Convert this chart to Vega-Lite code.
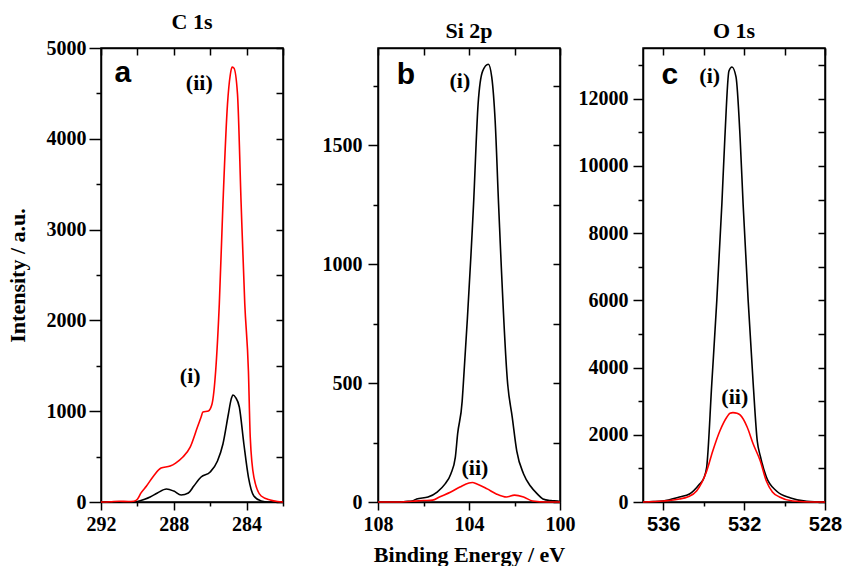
{
  "$schema": "https://vega.github.io/schema/vega-lite/v6.json",
  "background": "white",
  "padding": {"left": 5, "top": 10, "right": 5, "bottom": 0},
  "spacing": 0,
  "datasets": {
    "a": [
      {"series":"i","energy":292,"intensity":0},{"series":"i","energy":291,"intensity":0},{"series":"i","energy":290.3,"intensity":0},{"series":"i","energy":290.0,"intensity":5},{"series":"i","energy":289.6,"intensity":30},{"series":"i","energy":289.3,"intensity":55},{"series":"i","energy":288.9,"intensity":100},{"series":"i","energy":288.4,"intensity":143},{"series":"i","energy":288.0,"intensity":120},{"series":"i","energy":287.6,"intensity":77},{"series":"i","energy":287.2,"intensity":99},{"series":"i","energy":286.9,"intensity":176},{"series":"i","energy":286.5,"intensity":275},{"series":"i","energy":286.0,"intensity":330},{"series":"i","energy":285.6,"intensity":451},{"series":"i","energy":285.3,"intensity":639},{"series":"i","energy":285.0,"intensity":969},{"series":"i","energy":284.85,"intensity":1130},{"series":"i","energy":284.75,"intensity":1178},{"series":"i","energy":284.6,"intensity":1150},{"series":"i","energy":284.4,"intensity":1046},{"series":"i","energy":284.15,"intensity":639},{"series":"i","energy":283.9,"intensity":275},{"series":"i","energy":283.6,"intensity":66},{"series":"i","energy":283.2,"intensity":11},{"series":"i","energy":282.8,"intensity":0},{"series":"i","energy":282,"intensity":0},
      {"series":"ii","energy":292,"intensity":0},{"series":"ii","energy":291.5,"intensity":3},{"series":"ii","energy":291,"intensity":8},{"series":"ii","energy":290.5,"intensity":5},{"series":"ii","energy":290.2,"intensity":8},{"series":"ii","energy":290.0,"intensity":30},{"series":"ii","energy":289.8,"intensity":100},{"series":"ii","energy":289.5,"intensity":176},{"series":"ii","energy":289.1,"intensity":290},{"series":"ii","energy":288.7,"intensity":374},{"series":"ii","energy":288.2,"intensity":396},{"series":"ii","energy":287.9,"intensity":429},{"series":"ii","energy":287.5,"intensity":495},{"series":"ii","energy":287.1,"intensity":605},{"series":"ii","energy":286.7,"intensity":826},{"series":"ii","energy":286.5,"intensity":936},{"series":"ii","energy":286.4,"intensity":991},{"series":"ii","energy":286.1,"intensity":1002},{"series":"ii","energy":285.9,"intensity":1079},{"series":"ii","energy":285.7,"intensity":1442},{"series":"ii","energy":285.5,"intensity":2180},{"series":"ii","energy":285.3,"intensity":3281},{"series":"ii","energy":285.05,"intensity":4382},{"series":"ii","energy":284.9,"intensity":4700},{"series":"ii","energy":284.8,"intensity":4789},{"series":"ii","energy":284.7,"intensity":4780},{"series":"ii","energy":284.5,"intensity":4492},{"series":"ii","energy":284.3,"intensity":3281},{"series":"ii","energy":284.1,"intensity":2180},{"series":"ii","energy":283.9,"intensity":1442},{"series":"ii","energy":283.8,"intensity":716},{"series":"ii","energy":283.6,"intensity":275},{"series":"ii","energy":283.2,"intensity":66},{"series":"ii","energy":282.7,"intensity":22},{"series":"ii","energy":282.3,"intensity":5},{"series":"ii","energy":282,"intensity":0}
    ],
    "b": [
      {"series":"i","energy":108,"intensity":0},{"series":"i","energy":107,"intensity":0},{"series":"i","energy":106.8,"intensity":2},{"series":"i","energy":106.5,"intensity":4},{"series":"i","energy":106.3,"intensity":13},{"series":"i","energy":105.8,"intensity":21},{"series":"i","energy":105.4,"intensity":42},{"series":"i","energy":105.05,"intensity":76},{"series":"i","energy":104.8,"intensity":118},{"series":"i","energy":104.6,"intensity":189},{"series":"i","energy":104.5,"intensity":286},{"series":"i","energy":104.3,"intensity":424},{"series":"i","energy":104.25,"intensity":496},{"series":"i","energy":103.8,"intensity":1252},{"series":"i","energy":103.6,"intensity":1672},{"series":"i","energy":103.4,"intensity":1811},{"series":"i","energy":103.15,"intensity":1840},{"series":"i","energy":103.0,"intensity":1786},{"series":"i","energy":102.85,"intensity":1601},{"series":"i","energy":102.7,"intensity":1252},{"series":"i","energy":102.3,"intensity":496},{"series":"i","energy":102.1,"intensity":357},{"series":"i","energy":101.9,"intensity":214},{"series":"i","energy":101.6,"intensity":118},{"series":"i","energy":101.3,"intensity":67},{"series":"i","energy":101.0,"intensity":34},{"series":"i","energy":100.75,"intensity":13},{"series":"i","energy":100.4,"intensity":6},{"series":"i","energy":100.1,"intensity":4},{"series":"i","energy":100,"intensity":0},
      {"series":"ii","energy":108,"intensity":0},{"series":"ii","energy":107,"intensity":0},{"series":"ii","energy":106.5,"intensity":3},{"series":"ii","energy":106,"intensity":6},{"series":"ii","energy":105.6,"intensity":8},{"series":"ii","energy":105.3,"intensity":21},{"series":"ii","energy":104.8,"intensity":42},{"series":"ii","energy":104.4,"intensity":63},{"series":"ii","energy":104.0,"intensity":80},{"series":"ii","energy":103.85,"intensity":82},{"series":"ii","energy":103.65,"intensity":76},{"series":"ii","energy":103.2,"intensity":55},{"series":"ii","energy":102.8,"intensity":34},{"series":"ii","energy":102.35,"intensity":21},{"series":"ii","energy":102.0,"intensity":29},{"series":"ii","energy":101.6,"intensity":21},{"series":"ii","energy":101.2,"intensity":4},{"series":"ii","energy":100.6,"intensity":0},{"series":"ii","energy":100,"intensity":0}
    ],
    "c": [
      {"series":"i","energy":537,"intensity":0},{"series":"i","energy":536.5,"intensity":10},{"series":"i","energy":536.0,"intensity":30},{"series":"i","energy":535.2,"intensity":149},{"series":"i","energy":534.7,"intensity":238},{"series":"i","energy":534.2,"intensity":536},{"series":"i","energy":534.0,"intensity":700},{"series":"i","energy":533.85,"intensity":1042},{"series":"i","energy":533.6,"intensity":3512},{"series":"i","energy":533.35,"intensity":6000},{"series":"i","energy":533.1,"intensity":8869},{"series":"i","energy":532.95,"intensity":10863},{"series":"i","energy":532.75,"intensity":12827},{"series":"i","energy":532.6,"intensity":12946},{"series":"i","energy":532.4,"intensity":12649},{"series":"i","energy":532.2,"intensity":10863},{"series":"i","energy":532.05,"intensity":8869},{"series":"i","energy":531.8,"intensity":6000},{"series":"i","energy":531.55,"intensity":3512},{"series":"i","energy":531.35,"intensity":1815},{"series":"i","energy":531.2,"intensity":1369},{"series":"i","energy":530.9,"intensity":744},{"series":"i","energy":530.4,"intensity":327},{"series":"i","energy":529.7,"intensity":119},{"series":"i","energy":528.9,"intensity":20},{"series":"i","energy":528,"intensity":0},
      {"series":"ii","energy":537,"intensity":0},{"series":"ii","energy":536,"intensity":30},{"series":"ii","energy":535.2,"intensity":90},{"series":"ii","energy":534.8,"intensity":149},{"series":"ii","energy":534.35,"intensity":327},{"series":"ii","energy":533.85,"intensity":923},{"series":"ii","energy":533.55,"intensity":1518},{"series":"ii","energy":533.2,"intensity":2113},{"series":"ii","energy":532.85,"intensity":2530},{"series":"ii","energy":532.7,"intensity":2640},{"series":"ii","energy":532.55,"intensity":2660},{"series":"ii","energy":532.35,"intensity":2640},{"series":"ii","energy":532.2,"intensity":2590},{"series":"ii","energy":531.85,"intensity":2232},{"series":"ii","energy":531.55,"intensity":1726},{"series":"ii","energy":531.2,"intensity":1220},{"series":"ii","energy":530.9,"intensity":625},{"series":"ii","energy":530.6,"intensity":298},{"series":"ii","energy":530.25,"intensity":149},{"series":"ii","energy":529.6,"intensity":30},{"series":"ii","energy":528.5,"intensity":0},{"series":"ii","energy":528,"intensity":0}
    ],
    "ann": [
      {"panel":"a","kind":"letter","label":"a","energy":290.8,"intensity":4624},
      {"panel":"a","kind":"tag","label":"(ii)","energy":286.6,"intensity":4536},
      {"panel":"a","kind":"tag","label":"(i)","energy":287.1,"intensity":1310},
      {"panel":"b","kind":"letter","label":"b","energy":106.77,"intensity":1756},
      {"panel":"b","kind":"tag","label":"(i)","energy":104.4,"intensity":1739},
      {"panel":"b","kind":"tag","label":"(ii)","energy":103.74,"intensity":113},
      {"panel":"c","kind":"letter","label":"c","energy":535.67,"intensity":12440},
      {"panel":"c","kind":"tag","label":"(i)","energy":533.7,"intensity":12470},
      {"panel":"c","kind":"tag","label":"(ii)","energy":532.46,"intensity":2917}
    ]
  },
  "hconcat": [
    {
      "width": 182, "height": 454,
      "title": {"text": "C 1s"},
      "resolve": {"axis": {"x": "independent", "y": "independent"}},
      "layer": [
        {
          "data": {"name": "a"},
          "mark": {"type": "line", "strokeWidth": 1.6, "interpolate": "monotone"},
          "encoding": {
            "x": {"field": "energy", "type": "quantitative", "scale": {"domain": [292, 282], "nice": false, "zero": false},
              "axis": {"orient": "bottom", "values": [292, 290, 288, 286, 284, 282], "labelExpr": "datum.value % 4 === 0 ? datum.label : ''", "tickSize": {"condition": {"test": "datum.value % 4 === 0", "value": 8}, "value": 4}, "labelPadding": 4, "title": null}},
            "y": {"field": "intensity", "type": "quantitative", "scale": {"domain": [0, 5000], "nice": false},
              "axis": {"orient": "left", "values": [0, 500, 1000, 1500, 2000, 2500, 3000, 3500, 4000, 4500, 5000], "format": "d", "labelExpr": "datum.value % 1000 === 0 ? datum.label : ''", "tickSize": {"condition": {"test": "datum.value % 1000 === 0", "value": 12}, "value": 5}, "labelPadding": 3, "title": "Intensity / a.u.", "minExtent": 62, "titlePadding": 10}},
            "color": {"field": "series", "type": "nominal", "scale": {"domain": ["i", "ii"], "range": ["#000000", "#ff0000"]}, "legend": null}
          }
        },
        {
          "data": {"name": "ann"},
          "transform": [{"filter": "datum.panel === 'a' && datum.kind === 'tag'"}],
          "mark": {"type": "text", "font": "Liberation Serif", "fontWeight": "bold", "fontSize": 22, "align": "center", "baseline": "alphabetic", "color": "black"},
          "encoding": {
            "x": {"field": "energy", "type": "quantitative", "axis": null},
            "y": {"field": "intensity", "type": "quantitative", "axis": null},
            "text": {"field": "label"}
          }
        },
        {
          "data": {"name": "ann"},
          "transform": [{"filter": "datum.panel === 'a' && datum.kind === 'letter'"}],
          "mark": {"type": "text", "font": "Liberation Sans", "fontWeight": "bold", "fontSize": 30, "align": "center", "baseline": "alphabetic", "color": "black"},
          "encoding": {
            "x": {"field": "energy", "type": "quantitative", "axis": {"orient": "top", "values": [292, 290, 288, 286, 284, 282], "labels": false, "tickSize": -7, "title": null, "minExtent": 0}},
            "y": {"field": "intensity", "type": "quantitative", "axis": {"orient": "right", "values": [0, 500, 1000, 1500, 2000, 2500, 3000, 3500, 4000, 4500, 5000], "labels": false, "tickSize": -7, "title": null, "minExtent": 0}},
            "text": {"field": "label"}
          }
        }
      ]
    },
    {
      "width": 182, "height": 454,
      "title": {"text": "Si 2p"},
      "resolve": {"axis": {"x": "independent", "y": "independent"}},
      "layer": [
        {
          "data": {"name": "b"},
          "mark": {"type": "line", "strokeWidth": 1.6, "interpolate": "monotone"},
          "encoding": {
            "x": {"field": "energy", "type": "quantitative", "scale": {"domain": [108, 100], "nice": false, "zero": false},
              "axis": {"orient": "bottom", "values": [108, 106, 104, 102, 100], "labelExpr": "datum.value % 4 === 0 ? datum.label : ''", "tickSize": {"condition": {"test": "datum.value % 4 === 0", "value": 8}, "value": 4}, "labelPadding": 4, "title": "Binding Energy / eV", "titleFontSize": 22, "titlePadding": 10}},
            "y": {"field": "intensity", "type": "quantitative", "scale": {"domain": [0, 1908], "nice": false},
              "axis": {"orient": "left", "values": [0, 250, 500, 750, 1000, 1250, 1500, 1750], "format": "d", "labelExpr": "datum.value % 500 === 0 ? datum.label : ''", "tickSize": {"condition": {"test": "datum.value % 500 === 0", "value": 10}, "value": 5}, "labelPadding": 6, "title": null, "minExtent": 90}},
            "color": {"field": "series", "type": "nominal", "scale": {"domain": ["i", "ii"], "range": ["#000000", "#ff0000"]}, "legend": null}
          }
        },
        {
          "data": {"name": "ann"},
          "transform": [{"filter": "datum.panel === 'b' && datum.kind === 'tag'"}],
          "mark": {"type": "text", "font": "Liberation Serif", "fontWeight": "bold", "fontSize": 22, "align": "center", "baseline": "alphabetic", "color": "black"},
          "encoding": {
            "x": {"field": "energy", "type": "quantitative", "axis": null},
            "y": {"field": "intensity", "type": "quantitative", "axis": null},
            "text": {"field": "label"}
          }
        },
        {
          "data": {"name": "ann"},
          "transform": [{"filter": "datum.panel === 'b' && datum.kind === 'letter'"}],
          "mark": {"type": "text", "font": "Liberation Sans", "fontWeight": "bold", "fontSize": 30, "align": "center", "baseline": "alphabetic", "color": "black"},
          "encoding": {
            "x": {"field": "energy", "type": "quantitative", "axis": {"orient": "top", "values": [108, 106, 104, 102, 100], "labels": false, "tickSize": -7, "title": null, "minExtent": 0}},
            "y": {"field": "intensity", "type": "quantitative", "axis": {"orient": "right", "values": [0, 250, 500, 750, 1000, 1250, 1500, 1750], "labels": false, "tickSize": -7, "title": null, "minExtent": 0}},
            "text": {"field": "label"}
          }
        }
      ]
    },
    {
      "width": 182, "height": 454,
      "title": {"text": "O 1s"},
      "resolve": {"axis": {"x": "independent", "y": "independent"}},
      "layer": [
        {
          "data": {"name": "c"},
          "mark": {"type": "line", "strokeWidth": 1.6, "interpolate": "monotone"},
          "encoding": {
            "x": {"field": "energy", "type": "quantitative", "scale": {"domain": [537, 528], "nice": false, "zero": false},
              "axis": {"orient": "bottom", "values": [536, 534, 532, 530, 528], "labelExpr": "datum.value % 4 === 0 ? datum.label : ''", "tickSize": {"condition": {"test": "datum.value % 4 === 0", "value": 8}, "value": 4}, "labelPadding": 4, "labelFont": "Liberation Sans", "title": null}},
            "y": {"field": "intensity", "type": "quantitative", "scale": {"domain": [0, 13510], "nice": false},
              "axis": {"orient": "left", "values": [0, 1000, 2000, 3000, 4000, 5000, 6000, 7000, 8000, 9000, 10000, 11000, 12000, 13000], "labelExpr": "datum.value % 2000 === 0 ? datum.label : ''", "tickSize": {"condition": {"test": "datum.value % 2000 === 0", "value": 10}, "value": 5}, "labelPadding": 5, "format": "d", "title": null, "minExtent": 66}},
            "color": {"field": "series", "type": "nominal", "scale": {"domain": ["i", "ii"], "range": ["#000000", "#ff0000"]}, "legend": null}
          }
        },
        {
          "data": {"name": "ann"},
          "transform": [{"filter": "datum.panel === 'c' && datum.kind === 'tag'"}],
          "mark": {"type": "text", "font": "Liberation Serif", "fontWeight": "bold", "fontSize": 22, "align": "center", "baseline": "alphabetic", "color": "black"},
          "encoding": {
            "x": {"field": "energy", "type": "quantitative", "axis": null},
            "y": {"field": "intensity", "type": "quantitative", "axis": null},
            "text": {"field": "label"}
          }
        },
        {
          "data": {"name": "ann"},
          "transform": [{"filter": "datum.panel === 'c' && datum.kind === 'letter'"}],
          "mark": {"type": "text", "font": "Liberation Sans", "fontWeight": "bold", "fontSize": 30, "align": "center", "baseline": "alphabetic", "color": "black"},
          "encoding": {
            "x": {"field": "energy", "type": "quantitative", "axis": {"orient": "top", "values": [536, 534, 532, 530, 528], "labels": false, "tickSize": -7, "title": null, "minExtent": 0}},
            "y": {"field": "intensity", "type": "quantitative", "axis": {"orient": "right", "values": [0, 1000, 2000, 3000, 4000, 5000, 6000, 7000, 8000, 9000, 10000, 11000, 12000, 13000], "labels": false, "tickSize": -7, "title": null, "minExtent": 0}},
            "text": {"field": "label"}
          }
        }
      ]
    }
  ],
  "config": {
    "font": "Liberation Serif",
    "view": {"stroke": "black", "strokeWidth": 1.5},
    "title": {"font": "Liberation Serif", "fontSize": 22, "fontWeight": "bold", "color": "black", "offset": 4},
    "axis": {
      "grid": false,
      "domainColor": "black", "domainWidth": 1.5,
      "tickColor": "black", "tickWidth": 1.5,
      "labelFont": "Liberation Serif", "labelFontSize": 20, "labelFontWeight": "bold", "labelColor": "black",
      "labelFlush": false, "labelOverlap": false, "labelBound": false,
      "titleFont": "Liberation Serif", "titleFontSize": 22, "titleFontWeight": "bold", "titleColor": "black"
    }
  }
}
